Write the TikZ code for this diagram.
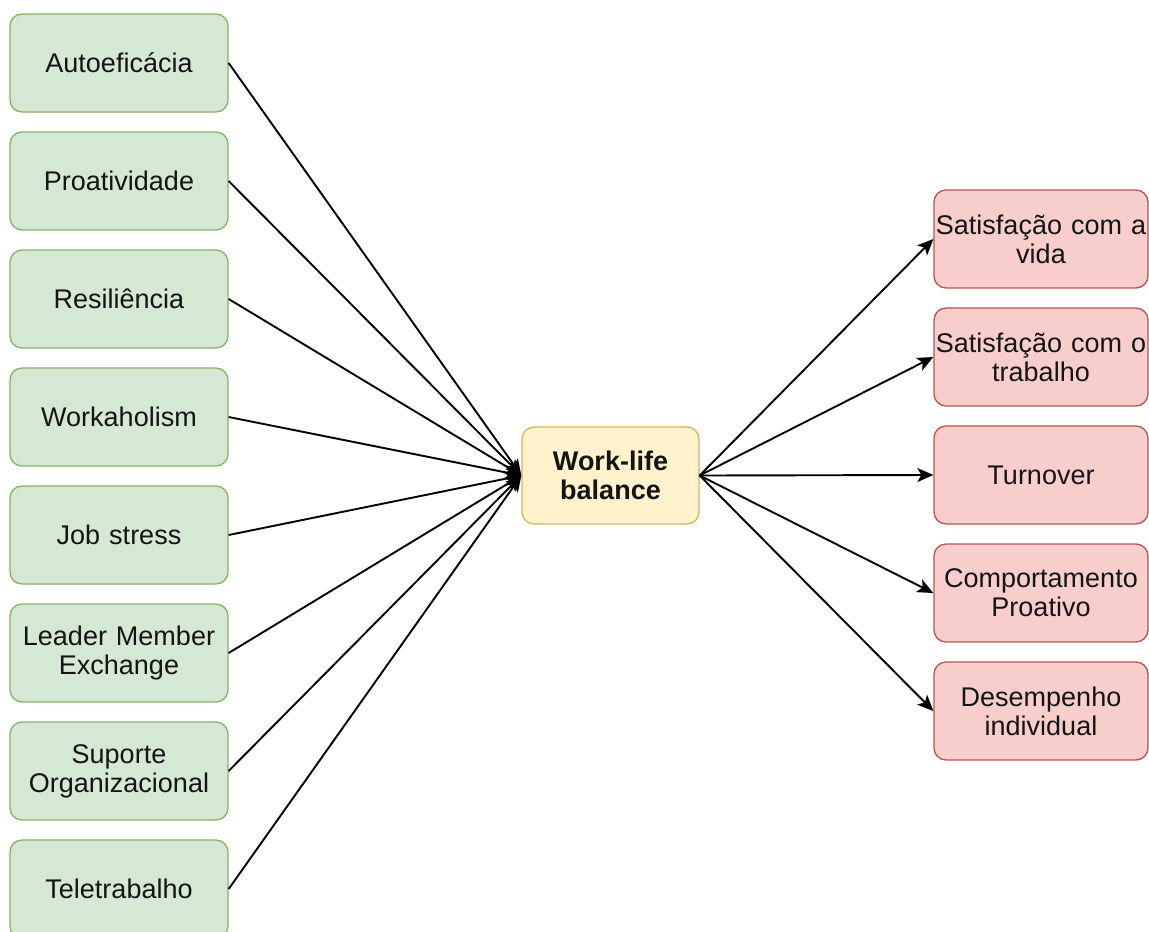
\documentclass[tikz,border=0pt]{standalone}
\usepackage{fontspec}
\setmainfont{Liberation Sans}
\usetikzlibrary{arrows.meta}
\definecolor{gfill}{HTML}{D5E8D4}
\definecolor{gline}{HTML}{82B366}
\definecolor{yfill}{HTML}{FFF2CC}
\definecolor{yline}{HTML}{D6B656}
\definecolor{rfill}{HTML}{F8CECC}
\definecolor{rline}{HTML}{B85450}
\tikzset{
  basebox/.style={rounded corners=12pt, line width=1.3pt, align=center,
    inner sep=0pt, font=\fontsize{27}{29}\selectfont, text=black!92},
  leftbox/.style={basebox, draw=gline, fill=gfill, minimum width=218pt, minimum height=98pt, text width=214pt},
  midbox/.style={basebox, draw=yline, fill=yfill, minimum width=177pt, minimum height=97pt, text width=174pt, font=\fontsize{27}{29}\selectfont\bfseries},
  rightbox/.style={basebox, draw=rline, fill=rfill, minimum width=214pt, minimum height=98pt, text width=214pt},
  conn/.style={line width=1.9pt, -{Stealth[length=16pt,width=14pt,inset=4pt]}}
}
\begin{document}
\begin{tikzpicture}[x=1pt,y=-1pt]
\useasboundingbox (0,0) rectangle (1149,932);
\node[leftbox] (l1) at (119,63) {Autoeficácia};
\node[leftbox] (l2) at (119,181) {Proatividade};
\node[leftbox] (l3) at (119,299) {Resiliência};
\node[leftbox] (l4) at (119,417) {Workaholism};
\node[leftbox] (l5) at (119,535) {Job stress};
\node[leftbox] (l6) at (119,653) {Leader Member\\Exchange};
\node[leftbox] (l7) at (119,771) {Suporte\\Organizacional};
\node[leftbox] (l8) at (119,889) {Teletrabalho};
\node[midbox] (m) at (610.5,475.5) {Work-life\\balance};
\node[rightbox] (r1) at (1041,239) {Satisfação com a\\vida};
\node[rightbox] (r2) at (1041,357) {Satisfação com o\\trabalho};
\node[rightbox] (r3) at (1041,475) {Turnover};
\node[rightbox] (r4) at (1041,593) {Comportamento\\Proativo};
\node[rightbox] (r5) at (1041,711) {Desempenho\\individual};
\foreach \i in {1,...,8} {
  \draw[conn] (l\i.east) -- (m.west);
}
\foreach \i in {1,...,5} {
  \draw[conn] (m.east) -- (r\i.west);
}
\end{tikzpicture}
\end{document}
